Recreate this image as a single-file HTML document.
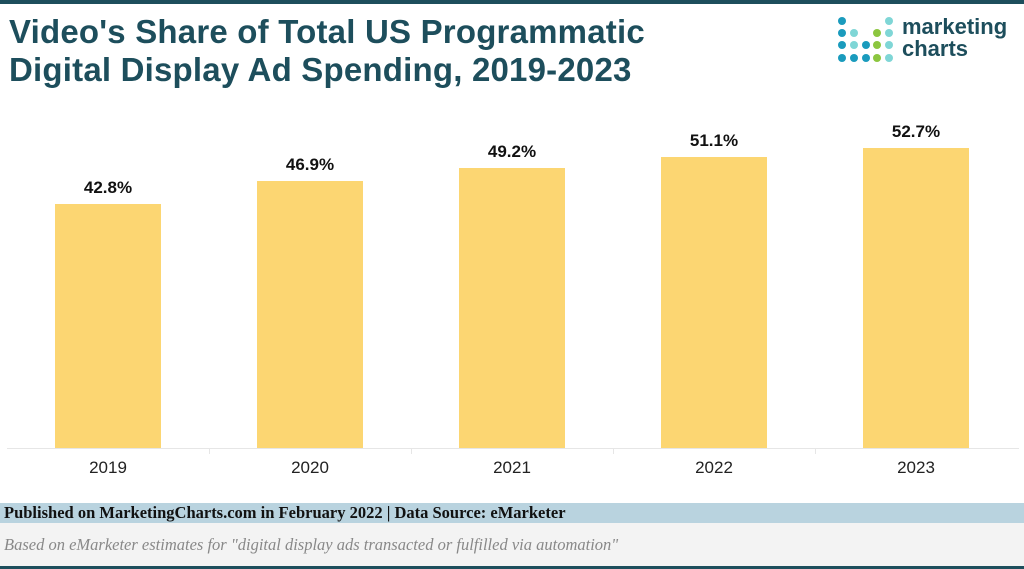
<!DOCTYPE html>
<html><head><style>
body{margin:0;width:1024px;height:569px;position:relative;background:#fff;overflow:hidden;font-family:"Liberation Sans",sans-serif}
.top{position:absolute;left:0;top:0;width:1024px;height:4px;background:#1d4e5c}
h1{position:absolute;left:9px;top:13px;margin:0;font-size:33px;line-height:38px;color:#1d4e5c;font-weight:bold;letter-spacing:0.2px;white-space:nowrap}
.bar{position:absolute;width:106px;background:#fcd672;bottom:121px}
.v{position:absolute;width:106px;text-align:center;font-weight:bold;font-size:17px;color:#111}
.x{position:absolute;width:106px;text-align:center;font-size:17px;color:#222;top:458px}
.axis{position:absolute;left:7px;top:448px;width:1012px;height:1px;background:#e6e6e6}
.tick{position:absolute;top:448px;width:1px;height:6px;background:#e6e6e6}
.pub{position:absolute;left:0;top:503px;width:1024px;height:20px;background:#b9d3df;font-size:16.5px;font-weight:bold;line-height:20px;color:#111;padding-left:4px;box-sizing:border-box;font-family:"Liberation Serif",serif;white-space:nowrap}
.note{position:absolute;left:0;top:523px;width:1024px;height:43px;background:#f3f3f3;font-size:16.5px;font-style:italic;color:#888;line-height:44px;padding-left:4px;box-sizing:border-box;font-family:"Liberation Serif",serif;white-space:nowrap}
.bot{position:absolute;left:0;top:566px;width:1024px;height:3px;background:#1d4e5c}
.d{position:absolute;width:8px;height:8px;border-radius:50%}
.logo{position:absolute;left:902px;top:16px;font-size:22px;line-height:22px;font-weight:bold;color:#1d4e5c}
</style></head><body>
<div class="top"></div>
<h1>Video's Share of Total US Programmatic<br>Digital Display Ad Spending, 2019-2023</h1>
<div class="logo">marketing<br>charts</div>
<div class="d" style="left:838px;top:17px;background:#1a9bbd"></div>
<div class="d" style="left:885px;top:17px;background:#7fd6d6"></div>
<div class="d" style="left:838px;top:29px;background:#1a9bbd"></div>
<div class="d" style="left:850px;top:29px;background:#7fd6d6"></div>
<div class="d" style="left:873px;top:29px;background:#8cc63f"></div>
<div class="d" style="left:885px;top:29px;background:#7fd6d6"></div>
<div class="d" style="left:838px;top:41px;background:#1a9bbd"></div>
<div class="d" style="left:850px;top:41px;background:#7fd6d6"></div>
<div class="d" style="left:862px;top:41px;background:#1a9bbd"></div>
<div class="d" style="left:873px;top:41px;background:#8cc63f"></div>
<div class="d" style="left:885px;top:41px;background:#7fd6d6"></div>
<div class="d" style="left:838px;top:54px;background:#1a9bbd"></div>
<div class="d" style="left:850px;top:54px;background:#1a9bbd"></div>
<div class="d" style="left:862px;top:54px;background:#1a9bbd"></div>
<div class="d" style="left:873px;top:54px;background:#8cc63f"></div>
<div class="d" style="left:885px;top:54px;background:#7fd6d6"></div>

<div class="axis"></div>
<div class="tick" style="left:209px"></div><div class="tick" style="left:411px"></div><div class="tick" style="left:613px"></div><div class="tick" style="left:815px"></div>

<div class="bar" style="left:55px;top:204px"></div><div class="v" style="left:55px;top:178px">42.8%</div><div class="x" style="left:55px">2019</div>
<div class="bar" style="left:257px;top:181px"></div><div class="v" style="left:257px;top:155px">46.9%</div><div class="x" style="left:257px">2020</div>
<div class="bar" style="left:459px;top:168px"></div><div class="v" style="left:459px;top:142px">49.2%</div><div class="x" style="left:459px">2021</div>
<div class="bar" style="left:661px;top:157px"></div><div class="v" style="left:661px;top:131px">51.1%</div><div class="x" style="left:661px">2022</div>
<div class="bar" style="left:863px;top:148px"></div><div class="v" style="left:863px;top:122px">52.7%</div><div class="x" style="left:863px">2023</div>

<div class="pub">Published on MarketingCharts.com in February 2022 | Data Source: eMarketer</div>
<div class="note">Based on eMarketer estimates for "digital display ads transacted or fulfilled via automation"</div>
<div class="bot"></div>
</body></html>
